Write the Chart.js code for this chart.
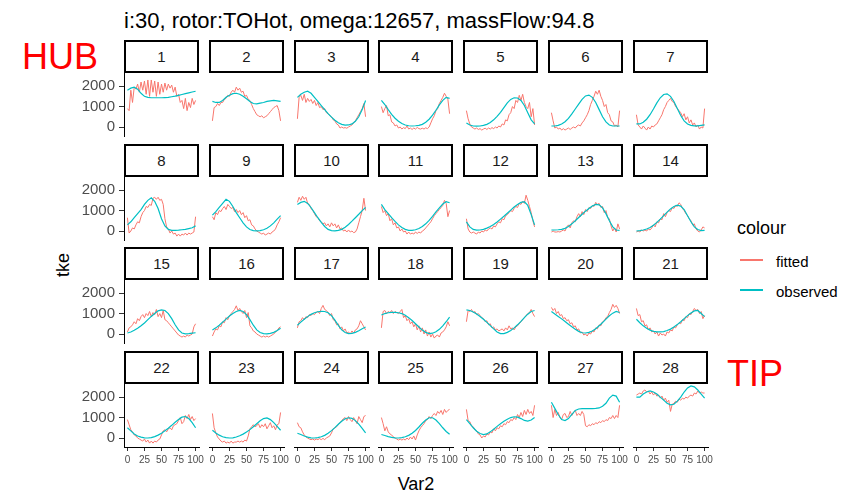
<!DOCTYPE html>
<html>
<head>
<meta charset="utf-8">
<script src="https://cdn.jsdelivr.net/npm/chart.js@4.4.0/dist/chart.umd.min.js"></script>
<style>
  body { margin: 0; background: #fff; font-family: "Liberation Sans", Arial, sans-serif; }
  #wrap { position: relative; width: 854px; height: 492px; overflow: hidden; }
  .txt { position: absolute; white-space: nowrap; line-height: 1; }
  .strip { position: absolute; box-sizing: border-box; border: 2px solid #000; background: #fff;
           color: #1a1a1a; font-size: 15px; display: flex; align-items: center; justify-content: center; }
  .key { position: absolute; width: 23px; height: 1.5px; }
  canvas { position: absolute; }
</style>
</head>
<body>
<div id="wrap">
  <div class="txt" style="left:124px; top:10px; font-size:22px; color:#000;">i:30, rotor:TOHot, omega:12657, massFlow:94.8</div>
  <div class="txt" style="left:22px; top:39px; font-size:36px; color:#ff0000;">HUB</div>
  <div class="txt" style="left:727px; top:356px; font-size:36px; color:#ff0000;">TIP</div>
  <div class="txt" style="left:63px; top:265px; font-size:18px; color:#000; transform: translate(-50%,-50%) rotate(-90deg);">tke</div>
  <div class="txt" style="left:416px; top:475px; font-size:18px; color:#000; transform: translateX(-50%);">Var2</div>
  <div class="txt" style="left:737px; top:219px; font-size:18px; color:#000;">colour</div>
  <div class="key" style="left:740px; top:259px; background:#F8766D;"></div>
  <div class="key" style="left:740px; top:289px; background:#00BFC4;"></div>
  <div class="txt" style="left:776px; top:254px; font-size:15px; color:#000;">fitted</div>
  <div class="txt" style="left:776px; top:284px; font-size:15px; color:#000;">observed</div>
</div>
<script>
// facet labels and ticks
const PANELS = ['1','2','3','4','5','6','7','8','9','10','11','12','13','14',
                '15','16','17','18','19','20','21','22','23','24','25','26','27','28'];
const X_TICKS = [0, 25, 50, 75, 100];
const Y_TICKS = [0, 1000, 2000];

// x positions (Var2)
const X_OBS = [0,5,10,15,20,25,30,35,40,45,50,55,60,65,70,75,80,85,90,95,100];
const X_FIT = [0,2.5,5,7.5,10,12.5,15,17.5,20,22.5,25,27.5,30,32.5,35,37.5,40,42.5,45,47.5,
               50,52.5,55,57.5,60,62.5,65,67.5,70,72.5,75,77.5,80,82.5,85,87.5,90,92.5,95,97.5,100];

// observed tke, one row per panel
const OBSERVED = [
  [1800,1900,1950,1850,1650,1500,1450,1430,1430,1430,1430,1440,1450,1480,1510,1550,1590,1630,1670,1710,1750],
  [1250,1200,1200,1300,1450,1550,1630,1650,1600,1500,1380,1250,1150,1130,1170,1200,1250,1280,1300,1280,1250],
  [1450,1600,1700,1750,1650,1450,1250,1050,850,650,480,330,210,130,90,100,150,280,500,850,1300],
  [1300,1100,850,620,430,280,170,100,60,50,60,80,130,230,380,580,820,1080,1300,1450,1400],
  [200,100,50,40,50,80,130,220,350,520,720,950,1180,1350,1430,1420,1300,1050,700,350,150],
  [50,50,80,150,260,420,640,880,1120,1350,1520,1560,1450,1200,850,500,250,100,50,50,50],
  [150,150,230,380,600,880,1180,1430,1590,1620,1500,1250,900,560,300,150,80,60,60,80,100],
  [300,450,650,850,1050,1300,1500,1620,1450,1100,600,250,80,30,30,40,60,80,120,160,250],
  [780,950,1150,1350,1550,1450,1200,900,650,400,200,70,20,10,20,60,130,250,400,580,750],
  [1300,1400,1450,1350,1150,900,650,420,220,80,20,10,30,80,180,320,480,650,820,1000,1150],
  [1300,1050,850,650,470,300,170,80,30,30,60,120,220,350,520,720,930,1130,1320,1430,1380],
  [450,200,80,40,50,80,140,220,320,440,580,720,870,1020,1170,1300,1400,1430,1250,800,300],
  [50,50,60,80,130,220,350,500,660,820,970,1100,1220,1300,1280,1130,850,500,200,50,30],
  [0,20,50,100,170,280,420,580,750,920,1080,1200,1260,1220,1050,750,450,200,70,20,30],
  [50,100,180,280,400,540,700,860,1000,1130,1180,1150,1000,750,450,200,50,10,20,40,60],
  [200,300,430,580,730,880,1000,1100,1150,1100,950,700,430,200,70,20,10,30,80,170,280],
  [430,580,720,850,960,1040,1090,1110,1100,1040,900,680,420,200,70,20,30,80,160,260,340],
  [930,1000,1040,1060,1060,1040,1000,920,800,660,500,340,190,80,20,40,110,230,400,600,830],
  [1180,1150,1080,980,860,720,570,410,250,100,20,20,80,170,300,450,620,800,970,1100,1150],
  [1100,980,860,740,610,480,350,230,130,60,50,80,150,260,400,560,730,890,1020,1100,1050],
  [720,550,400,280,190,130,100,100,120,170,240,340,460,600,750,900,1030,1130,1150,1000,850],
  [500,350,200,100,40,10,0,20,70,140,230,350,480,620,770,900,1020,1050,950,750,500],
  [380,250,140,60,15,0,10,50,110,190,290,410,550,700,840,950,980,900,750,570,380],
  [230,170,100,40,10,0,20,60,130,230,360,510,670,820,940,990,960,850,680,470,250],
  [170,120,70,30,10,0,15,60,130,230,370,540,720,880,990,990,880,700,500,320,180],
  [900,700,500,330,220,170,200,300,430,570,700,820,920,1000,1040,1020,950,860,830,880,1000],
  [1750,1450,1150,900,850,950,1150,1350,1420,1440,1440,1440,1440,1450,1470,1550,1700,1950,2100,2050,1750],
  [2000,2000,2150,2250,2300,2250,2150,2000,1850,1700,1620,1650,1800,2000,2250,2450,2550,2500,2350,2150,1950]
];

// fitted tke, one row per panel
const FITTED = [
  [900,800,1800,1200,1950,1850,2100,1700,2200,1800,2250,1600,2300,1500,2300,1700,2250,1500,2200,1600,2100,1700,2150,1800,2100,1900,2050,1700,1950,1500,1600,1200,1300,900,1400,800,1200,950,1400,1100,1300],
  [300,950,1000,1150,1050,1200,1200,1350,1400,1550,1500,1700,1800,1700,1950,1800,1900,1700,1750,1500,1550,1350,1300,1100,900,750,600,550,500,550,450,500,550,650,750,850,950,1000,1050,800,300],
  [400,1450,1550,1300,1600,1200,1400,1250,1350,1150,1300,1050,1200,950,1000,850,900,700,650,550,500,350,300,150,100,-50,0,-50,-30,-60,0,50,100,200,300,450,600,750,900,1150,500],
  [1000,700,900,1050,550,600,250,200,50,100,-50,0,-100,-30,-80,50,-100,-50,-120,-50,-100,-20,-80,-100,-60,-100,-40,-80,0,200,400,550,800,900,1150,1300,1450,1650,1500,1350,650],
  [800,400,150,0,-50,-100,-50,-120,-80,-150,-100,-60,-120,-50,-100,-30,-80,0,-50,50,0,150,100,350,300,600,700,1000,900,1300,1200,1550,1300,1600,1200,1000,900,1200,500,900,100],
  [700,300,-50,0,-100,-50,-150,-80,-150,-100,-50,-120,-50,0,-50,50,100,50,200,300,450,600,800,1100,1300,1500,1750,1600,1800,1500,1300,1000,1100,700,600,300,250,50,100,0,800],
  [600,100,0,-100,50,-50,-150,0,-100,50,0,100,150,300,450,600,850,1000,1200,1300,1400,1250,1200,1000,900,800,700,500,650,350,500,200,350,100,200,0,100,-100,0,-50,900],
  [650,-100,0,150,100,300,450,400,700,900,1000,1200,1150,1300,1250,1600,1650,1550,1650,1500,1550,1300,600,200,100,-100,0,-150,-100,-250,-150,-250,-150,-200,-100,-200,-100,-150,-100,-50,700],
  [700,550,900,800,1000,950,1100,1200,1050,1300,1200,1100,1150,950,1050,900,1000,800,900,650,750,500,550,300,250,100,0,-50,-100,-150,-100,-200,-150,-100,-150,-50,0,100,300,450,650],
  [1400,1650,1500,1700,1550,1650,1350,1300,1100,1000,850,700,650,500,450,350,400,250,350,200,400,250,350,150,300,100,150,0,50,-50,50,-50,0,-80,-50,100,400,700,1000,1600,1000],
  [1200,900,1000,750,850,500,600,300,400,150,200,0,100,-50,0,-150,-50,-150,-100,-150,-50,-120,-50,-100,0,50,150,250,350,450,600,750,850,950,1050,1150,1250,1500,1350,700,1000],
  [600,100,-50,-100,-50,-100,-150,-50,-100,0,-50,50,0,100,150,100,250,200,350,450,400,600,550,750,800,900,1000,950,1100,1200,1150,1350,1300,1450,1350,1750,1500,1200,900,500,200],
  [-50,0,-50,-50,-30,-50,0,50,0,200,300,150,400,500,450,700,850,700,950,800,1050,950,1150,1100,1250,1200,1400,1300,1350,1150,1200,900,1000,650,600,250,0,150,-50,350,100],
  [-50,0,-50,50,0,50,0,100,50,150,300,200,450,400,600,550,850,700,900,1000,950,1150,1100,1250,1200,1380,1300,1100,1000,850,750,600,500,300,350,100,0,-50,50,200,150],
  [100,300,350,450,600,500,750,650,850,950,800,1000,900,1100,850,1050,950,1200,850,1000,800,1150,700,650,550,450,350,250,150,50,-50,-100,-150,-100,-150,-50,-100,-50,0,350,500],
  [-100,100,250,200,400,350,600,550,800,700,900,1000,1100,1200,1380,1150,1250,1100,1000,1150,800,1050,400,300,150,100,0,-50,-100,-150,-100,-150,-100,-150,-100,-50,0,100,150,300,350],
  [300,600,650,800,700,850,800,950,900,1000,950,1050,1100,1000,1250,1400,1200,1150,1050,900,1000,700,650,450,500,250,350,150,250,50,100,0,150,50,200,250,400,650,500,350,200],
  [300,1100,1150,1000,1100,1050,1150,1000,1100,1050,1000,1100,1200,800,900,650,750,500,600,350,500,200,400,100,300,0,200,-100,100,-150,0,-200,-100,-50,-150,50,100,200,350,600,400],
  [600,1150,1100,1200,1050,1100,950,1000,900,800,750,600,650,450,500,300,350,200,250,150,200,250,150,300,200,400,250,300,200,350,400,500,600,700,800,900,1000,1050,1200,1000,850],
  [1300,1150,1250,1000,1100,900,950,750,800,650,700,500,550,350,400,200,250,50,100,-50,0,-100,50,0,150,100,300,250,450,400,600,650,800,850,1050,1200,1450,1300,1400,1250,1000],
  [1250,900,950,600,650,400,450,200,300,100,150,0,100,-100,50,-50,0,-100,100,50,200,150,350,300,450,550,500,700,650,850,800,1000,950,1100,1250,1150,1200,1000,1100,750,900],
  [900,650,400,300,150,100,0,-50,-100,-150,-50,-200,-100,-250,-150,-250,-150,-200,-100,-50,150,350,400,300,450,500,400,600,650,700,850,1000,700,800,1100,950,1150,900,1050,850,950],
  [1200,500,250,50,-50,-150,-200,-150,-250,-200,-250,-150,-250,-200,-200,-150,-200,-150,-200,-100,-150,100,450,550,650,550,600,700,500,650,550,700,450,600,750,500,600,400,650,700,1250],
  [750,550,500,300,150,50,0,-50,-80,-50,-100,-50,-80,-30,-80,-20,-80,0,50,100,250,450,500,550,650,750,850,950,1000,850,1050,900,800,1000,850,700,1050,900,750,1050,1100],
  [1000,700,350,550,300,200,150,50,0,-50,-100,-50,-100,-50,-100,0,-80,50,-50,100,-100,150,350,500,600,700,850,900,1050,950,1100,1200,1100,1300,1200,1350,1150,1400,1250,1350,1400],
  [1400,850,800,600,550,400,350,200,150,0,100,50,200,150,300,250,450,350,500,450,600,550,700,650,800,750,900,850,1000,900,1150,1000,1250,1050,1350,1150,1400,1200,1300,1100,1600],
  [1600,1000,1400,1100,1250,1000,900,1150,1200,1000,1050,1300,1100,1250,1350,1100,1200,1100,1300,1150,600,550,650,600,700,650,750,700,800,750,850,800,900,850,1000,950,1100,950,1100,1000,1600],
  [2100,2150,2200,2150,2300,2350,2250,2300,2150,2250,2100,2200,2050,2100,1950,2050,1850,1950,1750,1850,1300,1650,1700,1800,1750,1900,1850,1950,1900,2000,1950,2050,2100,2050,2200,2150,2300,2200,2250,2200,2200]
];

Chart.defaults.font.family = '"Liberation Sans", Arial, sans-serif';

const NCOL = 7;
const PW = 75, PH = 64;        // panel plot area
const AX_L = 60, AX_B = 30;    // room for y / x axis inside each canvas
const AX_R = 14;               // room for the last x label
const colLeft = c => Math.round(124 + c * 84.75);
const rowTop = r => Math.round(72 + r * 103.7);

const wrap = document.getElementById('wrap');

PANELS.forEach((name, i) => {
  const r = Math.floor(i / NCOL), c = i % NCOL;
  const left = colLeft(c), top = rowTop(r);
  const isLeft = c === 0, isBottom = r === 3;

  // strip header
  const strip = document.createElement('div');
  strip.className = 'strip';
  strip.style.left = left + 'px';
  strip.style.top = (top - 32) + 'px';
  strip.style.width = PW + 'px';
  strip.style.height = '33px';
  strip.textContent = name;
  wrap.appendChild(strip);

  const cv = document.createElement('canvas');
  cv.width = AX_L + PW + AX_R;
  cv.height = PH + AX_B;
  cv.style.left = (left - AX_L) + 'px';
  cv.style.top = top + 'px';
  wrap.appendChild(cv);

  new Chart(cv, {
    type: 'line',
    data: {
      datasets: [
        {
          label: 'observed',
          data: X_OBS.map((x, k) => ({ x: x, y: OBSERVED[i][k] })),
          borderColor: '#00BFC4',
          borderWidth: 1.2,
          pointRadius: 0
        },
        {
          label: 'fitted',
          data: X_FIT.map((x, k) => ({ x: x, y: FITTED[i][k] })),
          borderColor: '#F8766D',
          borderWidth: 1,
          pointRadius: 0
        }
      ]
    },
    options: {
      responsive: false,
      animation: false,
      devicePixelRatio: 1,
      layout: { padding: { left: 0, top: 0, bottom: 0, right: AX_R } },
      plugins: { legend: { display: false }, tooltip: { enabled: false } },
      scales: {
        x: {
          type: 'linear',
          min: -5,
          max: 105,
          afterBuildTicks: (s) => { s.ticks = X_TICKS.map(v => ({ value: v })); },
          afterFit: (s) => { s.height = AX_B; s.paddingLeft = 0; s.paddingRight = 0; },
          ticks: { display: isBottom, autoSkip: false, maxRotation: 0, minRotation: 0,
                   font: { size: 10 }, color: '#4D4D4D', padding: 3,
                   callback: (v) => String(v) },
          grid: { display: isBottom, drawOnChartArea: false, drawTicks: true, tickLength: 4, color: '#333333' },
          border: { display: isBottom, color: '#000', width: 1 }
        },
        y: {
          min: -440,
          max: 2690,
          afterBuildTicks: (s) => { s.ticks = Y_TICKS.map(v => ({ value: v })); },
          afterFit: (s) => { s.width = AX_L; s.paddingTop = 0; s.paddingBottom = 0; },
          ticks: { display: isLeft, font: { size: 15 }, color: '#4D4D4D', padding: 4,
                   callback: (v) => String(v) },
          grid: { display: isLeft, drawOnChartArea: false, drawTicks: true, tickLength: 5, color: '#333333' },
          border: { display: isLeft, color: '#000', width: 1 }
        }
      }
    }
  });
});
</script>
</body>
</html>
